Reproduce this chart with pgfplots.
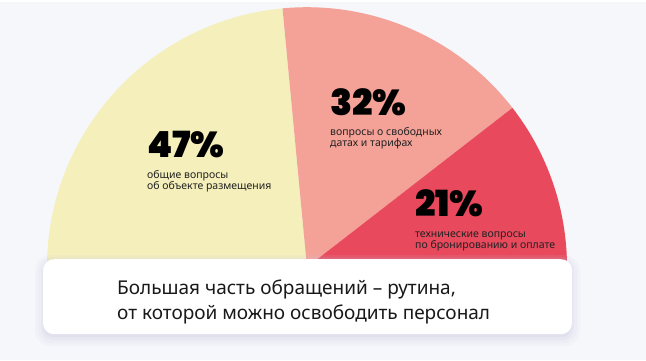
\documentclass[border=0pt]{standalone}
\usepackage{pgfplots}
\pgfplotsset{compat=1.18}
\usepackage{pgfplotstable}
\usepackage{fontspec}
\setmainfont{Noto Sans}
\newfontfamily\bignum{Poppins Black}
\definecolor{bg}{HTML}{F6F7FB}
\definecolor{c1}{HTML}{F4EFBB}
\definecolor{c2}{HTML}{F4A197}
\definecolor{c3}{HTML}{E8495C}
\definecolor{lbl}{HTML}{222222}
\definecolor{shd}{HTML}{C9CBE0}
\pgfplotstableread{
share
47
32
21
}\shares
\begin{document}
\begin{tikzpicture}
\pgfplotstablegetelem{0}{share}\of\shares \pgfmathsetmacro\sA{\pgfplotsretval}
\pgfplotstablegetelem{1}{share}\of\shares \pgfmathsetmacro\sB{\pgfplotsretval}
\pgfplotstablegetelem{2}{share}\of\shares \pgfmathsetmacro\sC{\pgfplotsretval}
\pgfmathsetmacro\aA{180}
\pgfmathsetmacro\aB{180-1.8*\sA}
\pgfmathsetmacro\aC{\aB-1.8*\sB}
\pgfmathsetmacro\aD{\aC-1.8*\sC}
\begin{axis}[width=646bp,height=358bp,scale only axis,xmin=0,xmax=646,ymin=0,ymax=358,
  y dir=reverse,hide axis,clip=false,enlargelimits=false]
\fill[bg] (axis cs:0,0) rectangle (axis cs:646,358);
\fill[c1] (axis cs:307,265) -- ++(\aA:260bp) arc[start angle=\aA,end angle=\aB,radius=260bp] -- cycle;
\fill[c2] (axis cs:307,265) -- ++(\aB:260bp) arc[start angle=\aB,end angle=\aC,radius=260bp] -- cycle;
\fill[c3] (axis cs:307,265) -- ++(\aC:260bp) arc[start angle=\aC,end angle=\aD,radius=260bp] -- cycle;
% shadow
\fill[shd,opacity=0.10,rounded corners=16bp] (axis cs:35,253) rectangle (axis cs:580,344);
\fill[shd,opacity=0.12,rounded corners=14bp] (axis cs:38,255) rectangle (axis cs:577,341);
\fill[shd,opacity=0.15,rounded corners=12bp] (axis cs:41,257) rectangle (axis cs:574,338);
\fill[shd,opacity=0.20,rounded corners=11bp] (axis cs:43,258) rectangle (axis cs:572,335);
\fill[white,rounded corners=11bp] (axis cs:43,257) rectangle (axis cs:572,332);
% big numbers
\node[anchor=base west,inner sep=0,text=black,font=\bignum\fontsize{36bp}{36bp}\selectfont] at (axis cs:147,155) {47\%};
\node[anchor=base west,inner sep=0,text=black,font=\bignum\fontsize{36bp}{36bp}\selectfont] at (axis cs:330,113) {32\%};
\node[anchor=base west,inner sep=0,text=black,font=\bignum\fontsize{36bp}{36bp}\selectfont] at (axis cs:415,214) {21\%};
% labels
\node[anchor=base west,inner sep=0,text=lbl,font=\fontsize{10.5bp}{12bp}\selectfont] at (axis cs:147,176) {общие вопросы};
\node[anchor=base west,inner sep=0,text=lbl,font=\fontsize{10.5bp}{12bp}\selectfont] at (axis cs:147,187) {об объекте размещения};
\node[anchor=base west,inner sep=0,text=lbl,font=\fontsize{10.5bp}{12bp}\selectfont] at (axis cs:330,133) {вопросы о свободных};
\node[anchor=base west,inner sep=0,text=lbl,font=\fontsize{10.5bp}{12bp}\selectfont] at (axis cs:330,144) {датах и тарифах};
\node[anchor=base west,inner sep=0,text=lbl,font=\fontsize{10.5bp}{12bp}\selectfont] at (axis cs:415,235) {технические вопросы};
\node[anchor=base west,inner sep=0,text=lbl,font=\fontsize{10.5bp}{12bp}\selectfont] at (axis cs:415,246) {по бронированию и оплате};
% caption
\node[anchor=base west,inner sep=0,text=black!90,font=\fontsize{19bp}{24bp}\selectfont] at (axis cs:117,292) {Большая часть обращений – рутина,};
\node[anchor=base west,inner sep=0,text=black!90,font=\fontsize{19bp}{24bp}\selectfont] at (axis cs:117,317) {от которой можно освободить персонал};
\end{axis}
\end{tikzpicture}
\end{document}
